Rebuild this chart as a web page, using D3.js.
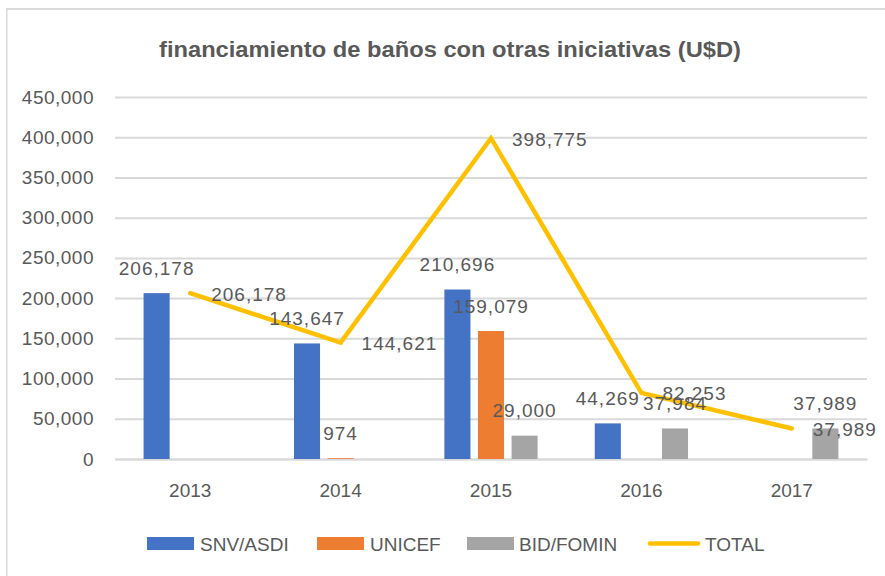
<!DOCTYPE html>
<html><head><meta charset="utf-8">
<script src="https://cdn.jsdelivr.net/npm/d3@7"></script>
<style>body{margin:0;background:#fff}svg{display:block}text{font-family:"Liberation Sans",Arial,sans-serif;fill:#595959}</style>
</head><body><svg id="c" width="885" height="576"></svg>
<script>
const years = ["2013","2014","2015","2016","2017"];
const seriesNames = ["SNV/ASDI","UNICEF","BID/FOMIN"];
const snv = [206178, 143647, 210696, 44269, null];
const unicef = [null, 974, 159079, null, null];
const bid = [null, null, 29000, 37984, 37989];
const total = [206178, 144621, 398775, 82253, 37989];
const yTicks = [0,50000,100000,150000,200000,250000,300000,350000,400000,450000];
const colors = ["#4472C4","#ED7D31","#A5A5A5"];
const lineColor = "#FFC000";
const title = "financiamiento de baños con otras iniciativas (U$D)";

const svg = d3.select("#c");
const fmt = d3.format(",");
// frame
svg.append("rect").attr("x",6).attr("y",8).attr("width",879).attr("height",2).attr("fill","#d9d9d9");
svg.append("rect").attr("x",6).attr("y",8).attr("width",1.5).attr("height",568).attr("fill","#d9d9d9");

const x0 = d3.scaleBand().domain(years).range([115, 867]).paddingInner(0.33).paddingOuter(0.165);
const x1 = d3.scaleBand().domain(seriesNames).range([0, x0.bandwidth()]).paddingInner(0.224).paddingOuter(0.112);
const y = d3.scaleLinear().domain([0,450000]).range([459, 97]);

svg.append("text").attr("x",159).attr("y",57).attr("font-size",22).attr("font-weight","bold")
  .attr("textLength",582).attr("lengthAdjust","spacingAndGlyphs").text(title);

// gridlines & y axis
const ya = svg.append("g").attr("transform","translate(115,0)")
  .call(d3.axisLeft(y).tickValues(yTicks).tickFormat(fmt).tickSize(-752).tickPadding(21));
ya.select(".domain").remove();
ya.selectAll(".tick line").attr("stroke","#d9d9d9").attr("stroke-width",2);
ya.selectAll(".tick text").attr("font-size",19).attr("letter-spacing","0.5px").attr("fill","#595959")
  .attr("font-family","Liberation Sans, Arial, sans-serif");

// x axis
const xa = svg.append("g").attr("transform","translate(0,459)")
  .call(d3.axisBottom(x0.copy().paddingInner(0).paddingOuter(0)).tickSize(0).tickPadding(25));
xa.select(".domain").attr("stroke","#d9d9d9").attr("stroke-width",2);
xa.selectAll(".tick text").attr("font-size",19).attr("fill","#595959")
  .attr("font-family","Liberation Sans, Arial, sans-serif");

// bars
const seriesVals = [snv, unicef, bid];
const barData = [];
years.forEach((yr,i)=>seriesNames.forEach((s,j)=>{ if(seriesVals[j][i]!=null) barData.push({yr,s,v:seriesVals[j][i],c:colors[j]}); }));
svg.append("g").selectAll("rect").data(barData).join("rect")
  .attr("x",d=>x0(d.yr)+x1(d.s)).attr("width",x1.bandwidth())
  .attr("y",d=>y(d.v)).attr("height",d=>y(0)-y(d.v)).attr("fill",d=>d.c);

// total line
const cx = d=>x0(d)+x0.bandwidth()/2;
const line = d3.line().x((d,i)=>cx(years[i])).y(d=>y(d));
svg.append("path").datum(total).attr("d",line).attr("fill","none")
  .attr("stroke",lineColor).attr("stroke-width",4.5).attr("stroke-linejoin","miter").attr("stroke-linecap","round");

// bar labels
svg.append("g").selectAll("text").data(barData).join("text")
  .attr("x",d=>x0(d.yr)+x1(d.s)+x1.bandwidth()/2).attr("y",d=>y(d.v)-25)
  .attr("text-anchor","middle").attr("dominant-baseline","central")
  .attr("font-size",19).attr("letter-spacing","1px").text(d=>fmt(d.v));
// line labels
svg.append("g").selectAll("text").data(total).join("text")
  .attr("x",(d,i)=>cx(years[i])+21).attr("y",d=>y(d)+1)
  .attr("dominant-baseline","central")
  .attr("font-size",19).attr("letter-spacing","1px").text(d=>fmt(d));

// legend
const leg = [
  {n:"SNV/ASDI",c:colors[0],sx:147,tx:200,t:"rect"},
  {n:"UNICEF",c:colors[1],sx:317,tx:370,t:"rect"},
  {n:"BID/FOMIN",c:colors[2],sx:467,tx:519,t:"rect"},
  {n:"TOTAL",c:lineColor,sx:648,tx:705,t:"line"}];
const lg = svg.append("g");
leg.forEach(d=>{
  if(d.t==="rect") lg.append("rect").attr("x",d.sx).attr("y",537).attr("width",47).attr("height",13).attr("fill",d.c);
  else lg.append("line").attr("x1",d.sx+2).attr("x2",d.sx+50).attr("y1",543.5).attr("y2",543.5)
        .attr("stroke",d.c).attr("stroke-width",4.5).attr("stroke-linecap","round");
  lg.append("text").attr("x",d.tx).attr("y",544).attr("dominant-baseline","central").attr("font-size",19).text(d.n);
});
</script></body></html>
